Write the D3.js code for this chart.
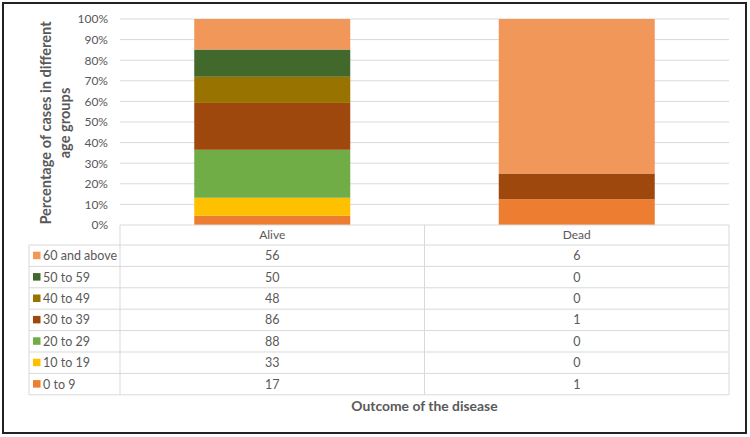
<!DOCTYPE html>
<html><head><meta charset="utf-8">
<script src="https://cdn.jsdelivr.net/npm/d3@7"></script>
<style>body{margin:0;background:#fff}svg{display:block;font-family:Lato,"Open Sans",sans-serif}</style>
</head><body><svg id="c" width="750" height="437"></svg>
<script>
const categories = ["Alive", "Dead"];
const seriesNames = ["0 to 9", "10 to 19", "20 to 29", "30 to 39", "40 to 49", "50 to 59", "60 and above"];
const alive = [17, 33, 88, 86, 48, 50, 56];
const dead = [1, 0, 0, 1, 0, 0, 6];
const colors = ["#ED7D31", "#FFC000", "#70AD47", "#9E480E", "#997300", "#43682B", "#F1975A"];
const yTicks = [0, 0.1, 0.2, 0.3, 0.4, 0.5, 0.6, 0.7, 0.8, 0.9, 1];

const svg = d3.select("#c");
const txt = "#595959", grid = "#D9D9D9";
const pL = 120, pR = 729, pT = 19, pB = 225;
const tableLeft = 29, rowH = 21.4, headH = 20;

svg.append("rect").attr("x", 3).attr("y", 3).attr("width", 743).attr("height", 430)
  .attr("fill", "#fff").attr("stroke", "#222").attr("stroke-width", 2);

const x = d3.scaleBand().domain(categories).range([pL, pR]).paddingInner(0).paddingOuter(0);
const y = d3.scaleLinear().domain([0, 1]).range([pB, pT]);

svg.append("g").selectAll("line").data(yTicks.filter(d => d > 0)).join("line")
  .attr("x1", pL).attr("x2", pR).attr("y1", d => y(d)).attr("y2", d => y(d))
  .attr("stroke", grid).attr("stroke-width", 1);

const yAxis = d3.axisLeft(y).tickValues(yTicks).tickFormat(d3.format(".0%")).tickSize(0).tickPadding(12);
const ga = svg.append("g").attr("transform", `translate(${pL},0)`).call(yAxis);
ga.select(".domain").remove();
ga.selectAll("text").attr("fill", txt).style("font-size", "12px").style("font-family", "Lato,'Open Sans',sans-serif");

const data = categories.map((c, i) => {
  const vals = i === 0 ? alive : dead;
  const o = { cat: c };
  seriesNames.forEach((s, j) => o[s] = vals[j]);
  return o;
});
const stack = d3.stack().keys(seriesNames).offset(d3.stackOffsetExpand);
const layers = stack(data);
const barW = 156;
svg.append("g").selectAll("g").data(layers).join("g").attr("fill", (d, i) => colors[i])
  .selectAll("rect").data(d => d).join("rect")
  .attr("x", d => x(d.data.cat) + x.bandwidth() / 2 - barW / 2)
  .attr("width", barW)
  .attr("y", d => y(d[1]))
  .attr("height", d => Math.max(0, y(d[0]) - y(d[1])));

const tg = svg.append("g");
const rows = seriesNames.slice().reverse();
const tBottom = pB + headH + rowH * rows.length;
tg.append("line").attr("x1", pL).attr("x2", pR).attr("y1", pB).attr("y2", pB).attr("stroke", grid);
const hy = [0, ...rows.map((r, i) => i + 1)];
tg.selectAll("line.h").data(hy).join("line").attr("class", "h")
  .attr("x1", tableLeft).attr("x2", pR)
  .attr("y1", d => pB + headH + rowH * d).attr("y2", d => pB + headH + rowH * d)
  .attr("stroke", grid);
tg.append("line").attr("x1", tableLeft).attr("x2", tableLeft).attr("y1", pB + headH).attr("y2", tBottom).attr("stroke", grid);
const vx = [pL, x(categories[1]), pR];
tg.selectAll("line.v").data(vx).join("line").attr("class", "v")
  .attr("x1", d => d).attr("x2", d => d).attr("y1", pB).attr("y2", tBottom).attr("stroke", grid);

tg.selectAll("text.hd").data(categories).join("text").attr("class", "hd")
  .attr("x", d => x(d) + x.bandwidth() / 2).attr("y", pB + headH / 2 + 4)
  .attr("text-anchor", "middle").attr("fill", txt).style("font-size", "12px").text(d => d);

rows.forEach((s, i) => {
  const j = seriesNames.indexOf(s);
  const cy = pB + headH + rowH * i + rowH / 2;
  tg.append("rect").attr("x", 33).attr("y", cy - 4).attr("width", 7.5).attr("height", 7.5).attr("fill", colors[j]);
  tg.append("text").attr("x", 43).attr("y", cy + 4.5).attr("fill", txt).style("font-size", "12.5px").text(s);
  categories.forEach((c, k) => {
    const v = (k === 0 ? alive : dead)[j];
    tg.append("text").attr("x", x(c) + x.bandwidth() / 2).attr("y", cy + 4.5)
      .attr("text-anchor", "middle").attr("fill", txt).style("font-size", "12.5px").text(v);
  });
});

svg.append("text").attr("x", (pL + pR) / 2).attr("y", 411).attr("text-anchor", "middle")
  .attr("fill", txt).style("font-size", "13.9px").style("font-weight", "bold").text("Outcome of the disease");
const yt = svg.append("text").attr("transform", "translate(56,123) rotate(-90)").attr("text-anchor", "middle")
  .attr("fill", txt).style("font-size", "14.6px").style("font-weight", "bold");
yt.append("tspan").attr("x", 0).attr("dy", -5).text("Percentage of cases in different");
yt.append("tspan").attr("x", 0).attr("dy", 19).text("age groups");
</script></body></html>
